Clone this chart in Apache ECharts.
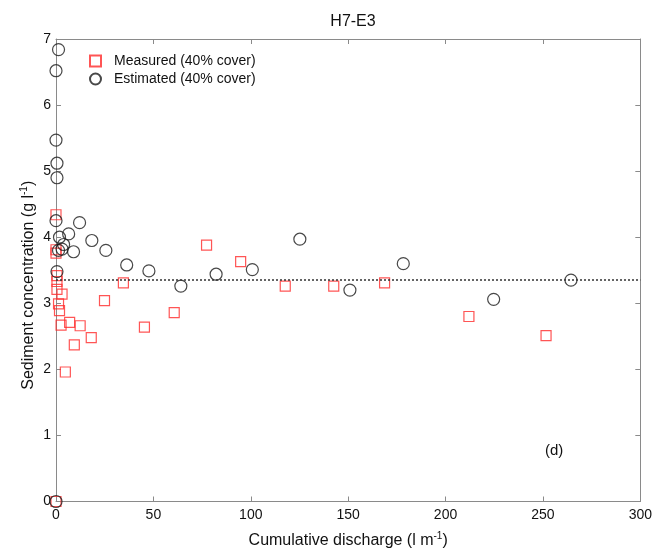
<!DOCTYPE html>
<html>
<head>
<meta charset="utf-8">
<script src="https://cdn.jsdelivr.net/npm/echarts@6/dist/echarts.min.js"></script>
<style>html,body{margin:0;padding:0;background:#fff;}#c{width:655px;height:554px;}</style>
</head>
<body>
<div id="c"></div>
<script>
const titleText = 'H7-E3';
const measuredName = 'Measured (40% cover)';
const estimatedName = 'Estimated (40% cover)';
const measuredX = [0, 0, 0, 0.5, 0.5, 0.5, 3.1, 1.3, 1.8, 2.6, 7.0, 12.4, 9.4, 18.1, 4.8, 24.9, 34.6, 45.4, 60.7, 77.3, 94.8, 117.7, 142.6, 168.7, 212, 251.6, 0];
const measuredY = [4.34, 3.81, 3.76, 3.42, 3.33, 3.21, 3.14, 2.99, 2.89, 2.67, 2.71, 2.66, 2.37, 2.48, 1.96, 3.04, 3.31, 2.64, 2.86, 3.88, 3.63, 3.26, 3.26, 3.31, 2.80, 2.51, 0];
const estimatedX = [0, 1.3, 0, 0, 0.5, 0.5, 0, 12.1, 1.8, 6.5, 3.9, 3.1, 1.3, 9.0, 18.4, 25.6, 36.3, 0.5, 47.7, 64.1, 82.2, 100.8, 125.2, 150.9, 178.3, 224.7, 264.4];
const estimatedY = [0, 6.84, 6.52, 5.47, 5.12, 4.90, 4.25, 4.22, 4.00, 4.05, 3.89, 3.82, 3.80, 3.78, 3.95, 3.80, 3.58, 3.48, 3.49, 3.26, 3.44, 3.51, 3.97, 3.20, 3.60, 3.06, 3.35];
const meanLine = 3.35;
const xMin = 0, xMax = 300, xStep = 50;
const yMin = 0, yMax = 7, yStep = 1;

const measured = measuredX.map((x, i) => [x, measuredY[i]]);
const estimated = estimatedX.map((x, i) => [x, estimatedY[i]]);

const font = 'Liberation Sans, Arial, sans-serif';
const axisColor = '#8a8a8a';
const chart = echarts.init(document.getElementById('c'), null, {renderer: 'canvas'});

const baseX = {type: 'value', min: xMin, max: xMax, interval: xStep,
  axisLine: {show: true, onZero: false, lineStyle: {color: axisColor, width: 1}},
  axisTick: {show: true, inside: true, length: 5, lineStyle: {color: axisColor}},
  splitLine: {show: false}};
const baseY = {type: 'value', min: yMin, max: yMax, interval: yStep,
  axisLine: {show: true, onZero: false, lineStyle: {color: axisColor, width: 1}},
  axisTick: {show: true, inside: true, length: 5, lineStyle: {color: axisColor}},
  splitLine: {show: false}};

chart.setOption({
  animation: false,
  backgroundColor: '#fff',
  title: {text: titleText, left: 348, top: 9, textAlign: 'center',
    textStyle: {fontFamily: font, fontSize: 16, fontWeight: 'normal', color: '#111'}},
  grid: {left: 56, right: 13, top: 39, bottom: 52, containLabel: false},
  legend: {orient: 'vertical', left: 84, top: 49, itemWidth: 11, itemHeight: 11, itemGap: 4,
    textStyle: {fontFamily: font, fontSize: 14, color: '#111', padding: [0, 0, 0, 8]},
    data: [{name: measuredName}, {name: estimatedName}]},
  xAxis: [
    Object.assign({}, baseX, {position: 'bottom',
      name: '{a|Cumulative discharge (l m}{s|-1}{a|)}', nameLocation: 'middle', nameGap: 30,
      nameMoveOverlap: false,
      nameTextStyle: {rich: {a: {fontFamily: font, fontSize: 16, color: '#111'},
        s: {fontFamily: font, fontSize: 10, color: '#111', padding: [0, 0, 9, 0]}}},
      axisLabel: {fontFamily: font, fontSize: 14, color: '#111', margin: 7}}),
    Object.assign({}, baseX, {position: 'top', axisLabel: {show: false}})
  ],
  yAxis: [
    Object.assign({}, baseY, {position: 'left',
      name: '{a|Sediment concentration (g l}{s|-1}{a|)}', nameLocation: 'middle', nameGap: 18,
      nameMoveOverlap: false,
      nameRotate: 90,
      nameTextStyle: {padding: [0, 30, 0, 0], rich: {a: {fontFamily: font, fontSize: 16, color: '#111'},
        s: {fontFamily: font, fontSize: 10, color: '#111', padding: [0, 0, 9, 0]}}},
      axisLabel: {fontFamily: font, fontSize: 14, color: '#111', margin: 5}}),
    Object.assign({}, baseY, {position: 'right', axisLabel: {show: false}})
  ],
  series: [
    {name: measuredName, type: 'scatter', data: measured, symbol: 'rect', symbolSize: 10,
      itemStyle: {color: 'rgba(255,255,255,0)', borderColor: '#ff2a2a', borderWidth: 1.2},
      z: 3,
      markLine: {silent: true, symbol: ['none', 'none'], label: {show: false},
        lineStyle: {color: '#333', type: [2, 2], width: 1.5},
        data: [{yAxis: meanLine}]}},
    {name: estimatedName, type: 'scatter', data: estimated, symbol: 'circle', symbolSize: 12,
      itemStyle: {color: 'rgba(255,255,255,0)', borderColor: '#1a1a1a', borderWidth: 1.2},
      z: 4}
  ],
  graphic: [{type: 'text', left: 545, top: 443,
    style: {text: '(d)', font: '15px ' + font, fill: '#111'}}]
});
</script>
</body>
</html>
